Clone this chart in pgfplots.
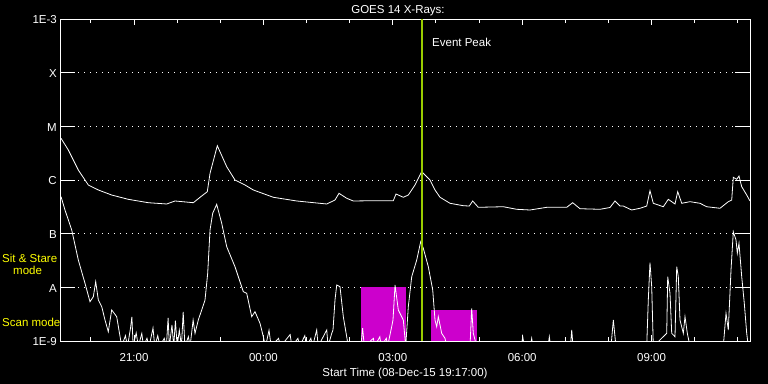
\documentclass[border=0pt]{standalone}
\usepackage{pgfplots}
\pgfplotsset{compat=1.18}
\usepackage{fontspec}
\setmainfont{Liberation Sans}
\definecolor{peakgreen}{RGB}{153,204,0}
\definecolor{scanmag}{RGB}{204,0,204}
\definecolor{lblyellow}{RGB}{255,255,0}
\begin{document}
\fontsize{11.5bp}{13bp}\selectfont
\begin{tikzpicture}
\fill[black] (0,0) rectangle (768bp,384bp);
\useasboundingbox (0,0) rectangle (768bp,384bp);
\begin{axis}[
  at={(60bp,43bp)}, anchor=south west, scale only axis,
  width=690bp, height=322bp,
  xmin=-4.7167, xmax=11.2833, ymin=-9, ymax=-3,
  axis line style={white, line width=0.9bp},
  xtick={-3,0,3,6,9}, xticklabels={21:00,00:00,03:00,06:00,09:00},
  minor xtick={-4,-2,-1,1,2,4,5,7,8,10,11},
  ytick={-9,-8,...,-3}, yticklabels={1E-9,A,B,C,M,X,1E-3},
  major tick length=6bp, minor tick length=3.5bp,
  tick style={white, line width=0.9bp},
  ymajorgrids,
  major grid style={white, line width=0.8bp, dash pattern=on 0.8bp off 5.2bp},
  xticklabel style={text=white, anchor=base, inner sep=0pt, yshift=-20.5bp},
  yticklabel style={text=white, anchor=east, inner sep=0pt, xshift=-3bp, yshift=-1bp},
]
% scan-mode boxes
\addplot[fill=scanmag, draw=none] coordinates {(2.263,-9) (2.263,-8) (3.307,-8) (3.307,-9)} -- cycle;
\addplot[fill=scanmag, draw=none] coordinates {(3.896,-9) (3.896,-8.422) (4.963,-8.422) (4.963,-9)} -- cycle;
% long-wavelength channel (log10 flux)
\addplot[white, line width=0.8bp, mark=none] coordinates {
(-4.693,-5.223) (-4.524,-5.441) (-4.292,-5.814) (-4.060,-6.093) (-3.828,-6.186)
(-3.518,-6.280) (-3.133,-6.360) (-2.669,-6.423) (-2.242,-6.447) (-2.050,-6.391)
(-1.625,-6.423) (-1.431,-6.298) (-1.301,-6.218) (-1.238,-5.875) (-1.069,-5.361)
(-0.851,-5.752) (-0.659,-6.000) (-0.427,-6.093) (-0.234,-6.186) (0.230,-6.322)
(0.772,-6.391) (1.468,-6.447) (1.660,-6.373) (1.753,-6.248) (1.932,-6.341)
(2.085,-6.391) (2.548,-6.386) (3.012,-6.386) (3.075,-6.261) (3.244,-6.322)
(3.360,-6.280) (3.515,-6.093) (3.671,-5.845) (3.863,-6.000) (3.979,-6.186)
(4.095,-6.322) (4.327,-6.434) (4.635,-6.479) (4.774,-6.485) (4.853,-6.391)
(4.983,-6.509) (5.563,-6.498) (5.874,-6.546) (6.182,-6.559) (6.569,-6.509)
(7.033,-6.509) (7.172,-6.423) (7.341,-6.535) (7.805,-6.546) (8.037,-6.512)
(8.153,-6.391) (8.269,-6.485) (8.345,-6.485) (8.540,-6.559) (8.733,-6.527)
(8.888,-6.485) (8.964,-6.199) (9.041,-6.434) (9.273,-6.498) (9.389,-6.360)
(9.544,-6.447) (9.607,-6.218) (9.700,-6.434) (9.892,-6.404) (10.124,-6.434)
(10.279,-6.498) (10.588,-6.527) (10.780,-6.404) (10.859,-6.373) (10.896,-5.950)
(10.975,-5.987) (11.028,-5.926) (11.091,-6.125) (11.207,-6.280) (11.283,-6.391)
};
% short-wavelength channel (log10 flux)
\addplot[white, line width=0.8bp, mark=none] coordinates {
(-4.693,-6.311) (-4.601,-6.559) (-4.445,-6.932) (-4.292,-7.491) (-4.137,-7.925)
(-4.021,-8.268) (-3.944,-8.175) (-3.889,-7.895) (-3.828,-8.236) (-3.749,-8.361)
(-3.673,-8.609) (-3.597,-8.827) (-3.518,-8.422) (-3.402,-8.547) (-3.286,-9.1)
(-3.20,-8.9) (-3.15,-9.1) (-3.08,-8.75) (-3.05,-8.55) (-3.02,-9.1)
(-2.95,-8.85) (-2.90,-9.1) (-2.82,-8.86) (-2.78,-9.1) (-2.70,-8.95)
(-2.65,-9.1) (-2.56,-8.76) (-2.52,-9.1) (-2.45,-8.9) (-2.40,-9.1)
(-2.30,-8.95) (-2.25,-9.1) (-2.21,-8.57) (-2.18,-9.1) (-2.12,-8.7)
(-2.08,-9.1) (-2.04,-8.62) (-2.00,-9.1) (-1.95,-8.8) (-1.90,-9.1)
(-1.86,-8.46) (-1.82,-9.1) (-1.74,-8.92) (-1.70,-9.1) (-1.63,-8.61)
(-1.586,-8.857) (-1.510,-8.609) (-1.431,-8.422) (-1.354,-8.236) (-1.292,-7.739)
(-1.238,-6.932) (-1.176,-6.620) (-1.083,-6.453) (-0.967,-6.807) (-0.851,-7.243)
(-0.659,-7.616) (-0.466,-8.081) (-0.387,-8.111) (-0.271,-8.547) (-0.195,-8.454)
(-0.079,-8.670) (-0.002,-8.920) (0.05,-9.1) (0.13,-8.80) (0.18,-9.1)
(0.35,-8.95) (0.40,-9.1) (0.62,-8.88) (0.66,-9.1) (0.80,-8.95)
(0.84,-9.1) (0.96,-8.90) (1.00,-9.1) (1.10,-8.95) (1.14,-9.1)
(1.236,-8.795) (1.27,-9.1) (1.40,-8.90) (1.468,-8.795) (1.50,-9.1)
(1.584,-8.857) (1.614,-8.795) (1.660,-8.236) (1.700,-7.957) (1.776,-7.988)
(1.853,-8.547) (1.969,-9.1) (2.26,-9.1) (2.30,-8.76) (2.34,-9.1)
(2.55,-8.95) (2.58,-9.1) (2.70,-8.92) (2.73,-9.1) (2.85,-8.95)
(2.88,-9.1) (2.975,-8.73) (3.005,-8.609) (3.052,-7.957) (3.128,-8.422)
(3.244,-8.609) (3.300,-9.1) (3.360,-8.361) (3.439,-7.802) (3.555,-7.491)
(3.647,-7.150) (3.708,-7.273) (3.824,-7.616) (3.926,-8.050) (3.979,-8.609)
(4.018,-8.734) (4.056,-8.547) (4.134,-8.857) (4.211,-8.95) (4.25,-9.1)
(4.791,-9.1) (4.830,-8.391) (4.867,-8.857) (4.946,-9.1) (5.98,-9.1)
(6.013,-8.92) (6.05,-9.1) (6.19,-9.1) (6.221,-8.95) (6.25,-9.1)
(6.60,-9.1) (6.630,-8.92) (6.66,-9.1) (7.12,-9.1) (7.149,-8.795)
(7.18,-9.1) (8.06,-9.1) (8.114,-8.609) (8.175,-9.1) (8.888,-9.1)
(8.925,-8.236) (8.964,-7.541) (9.004,-7.988) (9.041,-9.1) (9.352,-8.857)
(9.375,-7.802) (9.428,-8.111) (9.468,-8.857) (9.544,-8.92) (9.584,-7.616)
(9.621,-7.802) (9.660,-8.609) (9.737,-8.857) (9.776,-8.547) (9.830,-8.857)
(9.892,-9.1) (10.664,-9.1) (10.727,-8.484) (10.780,-8.795) (10.843,-7.677)
(10.896,-6.963) (10.959,-7.118) (10.989,-7.366) (11.028,-7.180) (11.091,-7.802)
(11.151,-8.298) (11.207,-8.857) (11.245,-9.1) (11.283,-9.1)
};
% event peak line
\addplot[peakgreen, line width=2bp, mark=none] coordinates {(3.671,-9) (3.671,-3)};
% long y ticks on both sides
\pgfplotsinvokeforeach{-8,-7,-6,-5,-4}{
  \draw[white, line width=0.9bp] (axis cs:-4.7167,#1) -- ([xshift=15bp]axis cs:-4.7167,#1);
  \draw[white, line width=0.9bp] (axis cs:11.2833,#1) -- ([xshift=-15bp]axis cs:11.2833,#1);
}
\end{axis}
\node[text=white, anchor=base, inner sep=0pt] at (398bp,370bp) {GOES 14 X-Rays:};
\node[text=white, anchor=base, inner sep=0pt] at (405bp,8bp) {Start Time (08-Dec-15 19:17:00)};
\node[text=white, anchor=base west, inner sep=0pt] at (432bp,337bp) {Event Peak};
\node[text=lblyellow, anchor=base west, inner sep=0pt] at (2bp,121bp) {Sit \& Stare};
\node[text=lblyellow, anchor=base west, inner sep=0pt] at (13bp,109bp) {mode};
\node[text=lblyellow, anchor=base west, inner sep=0pt] at (2bp,57bp) {Scan mode};
\end{tikzpicture}
\end{document}
